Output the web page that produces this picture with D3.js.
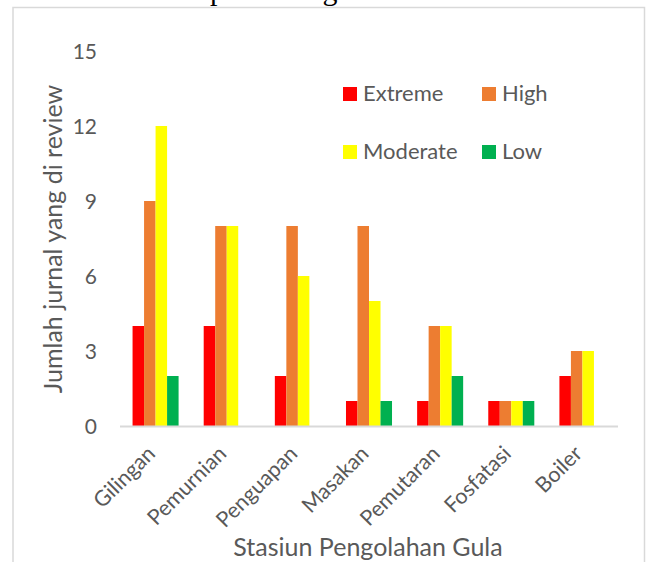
<!DOCTYPE html>
<html>
<head>
<meta charset="utf-8">
<script src="https://cdn.jsdelivr.net/npm/d3@7"></script>
<style>
  html, body { margin: 0; padding: 0; background: #fff; }
  svg { display: block; }
  text { font-family: Lato, "Open Sans", sans-serif; fill: #595959; }
</style>
</head>
<body>
<svg id="chart" width="651" height="562"></svg>
<script>
// Stations of the sugar processing line
const categories = ["Gilingan", "Pemurnian", "Penguapan", "Masakan", "Pemutaran", "Fosfatasi", "Boiler"];
// Risk levels shown as grouped bars
const seriesNames = ["Extreme", "High", "Moderate", "Low"];
const seriesColors = ["#ff0000", "#ed7d31", "#ffff00", "#00b050"];
// Number of reviewed journals per station, one array per risk level
const extremeValues  = [4, 4, 2, 1, 1, 1, 2];
const highValues     = [9, 8, 8, 8, 4, 1, 3];
const moderateValues = [12, 8, 6, 5, 4, 1, 3];
const lowValues      = [2, 0, 0, 1, 2, 1, 0];
const yTicks = [0, 3, 6, 9, 12, 15];

const seriesValues = [extremeValues, highValues, moderateValues, lowValues];

const svg = d3.select("#chart");

// Outer chart frame
svg.append("rect")
  .attr("x", 13).attr("y", 7.5)
  .attr("width", 631.5).attr("height", 600)
  .attr("fill", "none")
  .attr("stroke", "#d9d9d9")
  .attr("stroke-width", 1.5);

// Caption text running above the frame
svg.append("text")
  .attr("x", 210).attr("y", -0.5)
  .style("font-family", "'Liberation Serif', serif")
  .style("font-size", "30px")
  .style("fill", "#000")
  .text("produksi gula");

const plotLeft = 120, plotRight = 618, plotBottom = 426, plotTop = 51;

const x0 = d3.scaleBand()
  .domain(categories)
  .range([plotLeft, plotRight])
  .paddingInner(0.353)
  .paddingOuter(0.1765);

const x1 = d3.scaleBand()
  .domain(seriesNames)
  .range([0, x0.bandwidth()]);

const y = d3.scaleLinear()
  .domain([0, 15])
  .range([plotBottom, plotTop]);

// Bars
const groups = svg.append("g")
  .selectAll("g")
  .data(categories)
  .join("g")
  .attr("transform", d => `translate(${x0(d)},0)`);

groups.selectAll("rect")
  .data((c, i) => seriesNames.map((s, k) => ({ s, v: seriesValues[k][i], color: seriesColors[k] })))
  .join("rect")
  .attr("x", d => x1(d.s))
  .attr("y", d => y(d.v))
  .attr("width", x1.bandwidth())
  .attr("height", d => y(0) - y(d.v))
  .attr("fill", d => d.color);

// Category axis line
svg.append("line")
  .attr("x1", plotLeft).attr("x2", plotRight)
  .attr("y1", plotBottom + 0.5).attr("y2", plotBottom + 0.5)
  .attr("stroke", "#d9d9d9")
  .attr("stroke-width", 2);

// Value axis labels
const yAxis = d3.axisLeft(y).tickValues(yTicks).tickSize(0).tickPadding(0);
const yG = svg.append("g")
  .attr("transform", "translate(97,0)")
  .call(yAxis);
yG.select(".domain").remove();
yG.selectAll("text")
  .style("font-family", "Lato, 'Open Sans', sans-serif")
  .style("font-size", "21px")
  .attr("fill", "#595959")
  .attr("dy", "0.35em");

// Category labels, rotated
svg.append("g")
  .selectAll("text")
  .data(categories)
  .join("text")
  .attr("transform", d => `translate(${x0(d) + x0.bandwidth() / 2 + 1},455) rotate(-45)`)
  .attr("text-anchor", "end")
  .style("font-size", "21.5px")
  .text(d => d);

// Axis titles
svg.append("text")
  .attr("transform", "translate(62,239) rotate(-90)")
  .attr("text-anchor", "middle")
  .style("font-size", "25px")
  .text("Jumlah jurnal yang di review");

svg.append("text")
  .attr("x", 368).attr("y", 556)
  .attr("text-anchor", "middle")
  .style("font-size", "25px")
  .text("Stasiun Pengolahan Gula");

// Legend, two columns by two rows
const legendPos = [[343, 87], [482, 87], [343, 145], [482, 145]];
const legend = svg.append("g")
  .selectAll("g")
  .data(seriesNames)
  .join("g")
  .attr("transform", (d, i) => `translate(${legendPos[i][0]},${legendPos[i][1]})`);
legend.append("rect")
  .attr("width", 14).attr("height", 14)
  .attr("fill", (d, i) => seriesColors[i]);
legend.append("text")
  .attr("x", 20).attr("y", 13.5)
  .style("font-size", "22px")
  .text(d => d);
</script>
</body>
</html>
